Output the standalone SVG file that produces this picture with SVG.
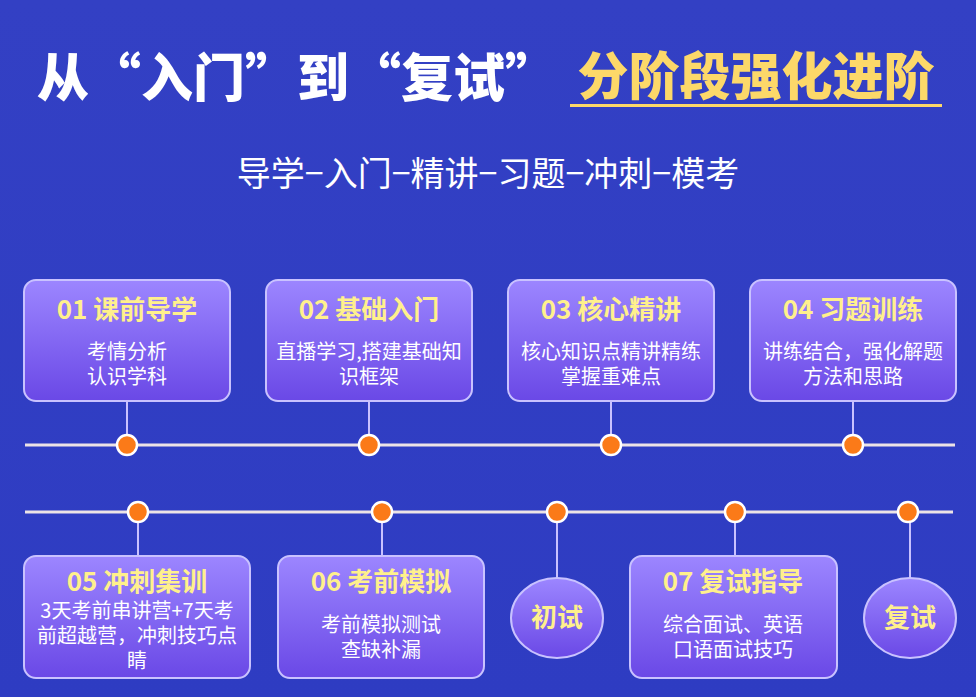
<svg xmlns="http://www.w3.org/2000/svg" width="976" height="697" viewBox="0 0 976 697">
<defs>
<linearGradient id="bg" x1="0" y1="0" x2="0" y2="1"><stop offset="0" stop-color="#3340c4"/><stop offset="1" stop-color="#2e3cc2"/></linearGradient>
<linearGradient id="bx" x1="0" y1="0" x2="0" y2="1"><stop offset="0" stop-color="#9c86ff"/><stop offset="1" stop-color="#6a48e6"/></linearGradient>
</defs>
<style>
.box{fill:url(#bx);stroke:#c9c2ff;stroke-width:2}
.ln{stroke:#ece3e6;stroke-width:3}
.st{stroke:#c9c2ff;stroke-width:2}
.dot{fill:#fb7a18;stroke:#fff;stroke-width:2.5}
.h{font-family:"Noto Sans CJK SC",sans-serif;font-weight:bold;font-size:26px;fill:#fff08c;text-anchor:middle}
.b{font-family:"Noto Sans CJK SC",sans-serif;font-size:20px;fill:#fff;text-anchor:middle}
</style>
<rect width="976" height="697" fill="url(#bg)"/>
<text x="297" y="97" font-family="Noto Sans CJK SC,sans-serif" font-weight="900" font-size="52" fill="#fff" text-anchor="middle">从“入门”到“复试”</text>
<text x="756" y="95" font-family="Noto Sans CJK SC,sans-serif" font-weight="900" font-size="51" fill="#fcd869" text-anchor="middle">分阶段强化进阶</text>
<rect x="570" y="104" width="372" height="3" fill="#fcd869"/>
<text x="488" y="186" font-family="Noto Sans CJK SC,sans-serif" font-size="34" fill="#fff" text-anchor="middle">导学−入门−精讲−习题−冲刺−模考</text>
<g id="connectors">
<line class="ln" x1="25" y1="445" x2="955" y2="445"/>
<line class="ln" x1="25" y1="512" x2="953" y2="512"/>
<line class="st" x1="127" y1="401" x2="127" y2="445"/>
<line class="st" x1="369" y1="401" x2="369" y2="445"/>
<line class="st" x1="611" y1="401" x2="611" y2="445"/>
<line class="st" x1="853" y1="401" x2="853" y2="445"/>
<line class="st" x1="138" y1="512" x2="138" y2="556"/>
<line class="st" x1="382" y1="512" x2="382" y2="556"/>
<line class="st" x1="557" y1="512" x2="557" y2="580"/>
<line class="st" x1="735" y1="512" x2="735" y2="556"/>
<line class="st" x1="910" y1="512" x2="910" y2="580"/>
<circle class="dot" cx="127" cy="445" r="10"/><circle class="dot" cx="369" cy="445" r="10"/>
<circle class="dot" cx="611" cy="445" r="10"/><circle class="dot" cx="853" cy="445" r="10"/>
<circle class="dot" cx="138" cy="512" r="10"/><circle class="dot" cx="382" cy="512" r="10"/>
<circle class="dot" cx="557" cy="512" r="10"/><circle class="dot" cx="735" cy="512" r="10"/>
<circle class="dot" cx="908" cy="512" r="10"/>
</g>
<g id="n1"><rect class="box" x="24" y="280" width="206" height="121" rx="12"/><text class="h" x="127" y="319">01 课前导学</text><text class="b" x="127" y="359">考情分析</text><text class="b" x="127" y="384">认识学科</text></g>
<g id="n2"><rect class="box" x="266" y="280" width="206" height="121" rx="12"/><text class="h" x="369" y="319">02 基础入门</text><text class="b" x="369" y="359">直播学习,搭建基础知</text><text class="b" x="369" y="384">识框架</text></g>
<g id="n3"><rect class="box" x="508" y="280" width="206" height="121" rx="12"/><text class="h" x="611" y="319">03 核心精讲</text><text class="b" x="611" y="359">核心知识点精讲精练</text><text class="b" x="611" y="384">掌握重难点</text></g>
<g id="n4"><rect class="box" x="750" y="280" width="206" height="121" rx="12"/><text class="h" x="853" y="319">04 习题训练</text><text class="b" x="853" y="359">讲练结合，强化解题</text><text class="b" x="853" y="384">方法和思路</text></g>
<g id="n5"><rect class="box" x="24" y="556" width="226" height="122" rx="12"/><text class="h" x="137" y="591">05 冲刺集训</text><text class="b" x="137" y="618">3天考前串讲营+7天考</text><text class="b" x="137" y="643">前超越营，冲刺技巧点</text><text class="b" x="137" y="668">睛</text></g>
<g id="n6"><rect class="box" x="278" y="556" width="206" height="122" rx="12"/><text class="h" x="381" y="591">06 考前模拟</text><text class="b" x="381" y="632">考前模拟测试</text><text class="b" x="381" y="657">查缺补漏</text></g>
<g id="n7"><ellipse class="box" cx="557" cy="618" rx="46" ry="40"/><text class="h" x="557" y="627">初试</text></g>
<g id="n8"><rect class="box" x="630" y="556" width="207" height="122" rx="12"/><text class="h" x="733" y="591">07 复试指导</text><text class="b" x="733" y="632">综合面试、英语</text><text class="b" x="733" y="657">口语面试技巧</text></g>
<g id="n9"><ellipse class="box" cx="910" cy="618" rx="46" ry="40"/><text class="h" x="910" y="627">复试</text></g>
</svg>
